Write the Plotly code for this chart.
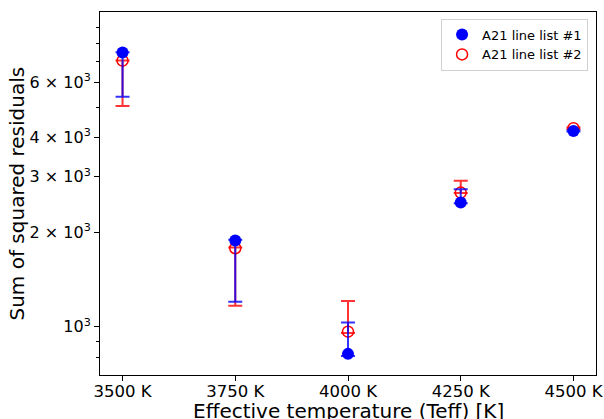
import plotly.graph_objects as go

temps = [3500, 3750, 4000, 4250, 4500]
temp_labels = ["3500 K", "3750 K", "4000 K", "4250 K", "4500 K"]

ssr1 = [7460, 1880, 819, 2483, 4200]
err1_lo = [2060, 680, 12, 10, 20]
err1_hi = [15, 10, 211, 257, 20]

ssr2 = [7030, 1777, 964, 2672, 4285]
err2_lo = [1985, 611, 10, 10, 20]
err2_hi = [15, 10, 243, 245, 20]

ytick_vals = [1000, 2000, 3000, 4000, 6000]
ytick_text = ["10<sup>3</sup>", "2 × 10<sup>3</sup>", "3 × 10<sup>3</sup>",
              "4 × 10<sup>3</sup>", "6 × 10<sup>3</sup>"]
yminor_vals = [800, 900, 5000, 7000, 8000, 9000]

x_title = "Effective temperature (Teff) [K]"
y_title = "Sum of squared residuals"

FONT = "DejaVu Sans"

fig = go.Figure()
fig.add_trace(go.Scatter(
    x=temps, y=ssr2, mode="markers", name="A21 line list #2", legendrank=2,
    marker=dict(color="rgba(0,0,0,0)", size=11, symbol="circle",
                line=dict(color="red", width=1.5)),
    error_y=dict(type="data", symmetric=False, array=err2_hi, arrayminus=err2_lo,
                 color="rgba(255,0,0,0.8)", thickness=2, width=7),
))
fig.add_trace(go.Scatter(
    x=temps, y=ssr1, mode="markers", name="A21 line list #1", legendrank=1,
    marker=dict(color="blue", size=12, symbol="circle"),
    error_y=dict(type="data", symmetric=False, array=err1_hi, arrayminus=err1_lo,
                 color="rgba(0,0,255,0.8)", thickness=2, width=7),
))

fig.update_layout(
    width=604, height=419,
    margin=dict(l=100, r=8, t=12, b=44),
    paper_bgcolor="white", plot_bgcolor="white",
    font=dict(family=FONT, color="black", size=16),
    showlegend=True,
    legend=dict(x=0.984, y=0.982, xanchor="right", yanchor="top",
                bgcolor="white", bordercolor="#d0d0d0", borderwidth=1,
                font=dict(size=13, family=FONT), itemwidth=30,
                tracegroupgap=0),
    annotations=[
        dict(text=x_title, xref="paper", yref="paper", x=0.5, y=0,
             xanchor="center", yanchor="top", yshift=-22, showarrow=False,
             font=dict(size=20, family=FONT, color="black")),
        dict(text=y_title, xref="paper", yref="paper", x=0, y=0.5,
             xanchor="center", yanchor="middle", xshift=-84, textangle=-90,
             showarrow=False, font=dict(size=20, family=FONT, color="black")),
    ],
)
fig.update_xaxes(
    range=[3450, 4550], tickvals=temps, ticktext=temp_labels,
    showgrid=False, zeroline=False, showline=True, linecolor="black",
    linewidth=1, mirror=True, ticks="outside", ticklen=5, tickcolor="black",
    tickfont=dict(size=16.5), automargin=False, ticklabelstandoff=-4,
)
fig.update_yaxes(
    type="log", range=[2.846, 4.002], tickvals=ytick_vals, ticktext=ytick_text,
    showgrid=False, zeroline=False, showline=True, linecolor="black",
    linewidth=1, mirror=True, ticks="outside", ticklen=5, tickcolor="black",
    tickfont=dict(size=16), automargin=False,
    minor=dict(tickvals=yminor_vals, ticks="outside", ticklen=3, tickcolor="black", showgrid=False),
)

fig.write_html("out.html")
